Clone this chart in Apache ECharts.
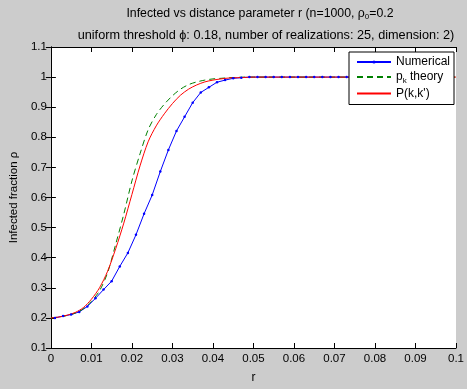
<!DOCTYPE html>
<html>
<head>
<meta charset="utf-8">
<script src="https://cdn.jsdelivr.net/npm/echarts@6/dist/echarts.min.js"></script>
<style>
  html, body { margin: 0; padding: 0; background: #cccccc; }
  #chart { width: 467px; height: 389px; }
</style>
</head>
<body>
<div id="chart"></div>
<script>
// numerical simulation, r = 0.001, 0.003, ...
const numR = [0.001, 0.003, 0.005, 0.007, 0.009, 0.011, 0.013, 0.015, 0.017, 0.019,
  0.021, 0.023, 0.025, 0.027, 0.029, 0.031, 0.033, 0.035, 0.037, 0.039,
  0.041, 0.043, 0.045, 0.047, 0.049, 0.051, 0.053, 0.055, 0.057, 0.059,
  0.061, 0.063, 0.065, 0.067, 0.069, 0.071, 0.073, 0.075, 0.077, 0.079,
  0.081, 0.083, 0.085, 0.087, 0.089, 0.091, 0.093, 0.095, 0.097, 0.099];
const numRho = [0.200, 0.206, 0.211, 0.220, 0.238, 0.265, 0.294, 0.322, 0.371, 0.416,
  0.476, 0.546, 0.608, 0.686, 0.758, 0.821, 0.868, 0.915, 0.949, 0.966,
  0.983, 0.990, 0.996, 0.998, 1.0, 1.0, 1.0, 1.0, 1.0, 1.0,
  1.0, 1.0, 1.0, 1.0, 1.0, 1.0, 1.0, 1.0, 1.0, 1.0,
  1.0, 1.0, 1.0, 1.0, 1.0, 1.0, 1.0, 1.0, 1.0, 1.0];

// theory curves
const theoryR = [0, 0.002, 0.004, 0.006, 0.008, 0.010, 0.012, 0.014, 0.016, 0.018,
  0.020, 0.022, 0.024, 0.026, 0.028, 0.030, 0.032, 0.034, 0.036, 0.038,
  0.040, 0.042, 0.044, 0.046, 0.048, 0.050, 0.100];
const pkRho = [0.200, 0.203, 0.208, 0.216, 0.230, 0.255, 0.290, 0.350, 0.445, 0.545,
  0.655, 0.745, 0.825, 0.875, 0.910, 0.938, 0.960, 0.975, 0.984, 0.990,
  0.994, 0.996, 0.998, 0.999, 1.0, 1.0, 1.0];
const pkkRho = [0.200, 0.203, 0.209, 0.218, 0.234, 0.262, 0.300, 0.355, 0.430, 0.515,
  0.610, 0.705, 0.785, 0.838, 0.878, 0.912, 0.940, 0.960, 0.974, 0.984,
  0.990, 0.994, 0.997, 0.998, 0.999, 1.0, 1.0];

const seriesNames = ["Numerical", "pk theory", "P(k,k')"];

const font = "Liberation Sans";

function pairs(xs, ys) {
  return xs.map((x, i) => [x, ys[i]]);
}

const chart = echarts.init(document.getElementById("chart"));

const axisCommon = {
  axisLine: { lineStyle: { color: "#000", width: 1 } },
  axisTick: { inside: true, length: 5, lineStyle: { color: "#000" } },
  splitLine: { show: false },
};

const subStyle = { fontFamily: font, fontSize: 8, color: "#000", verticalAlign: "bottom", padding: [7, 0, 0, 0] };

chart.setOption({
  backgroundColor: "#cccccc",
  animation: false,
  title: [
    {
      text: "Infected vs distance parameter r (n=1000, {r|ρ}{s|0}=0.2",
      left: 255,
      top: 1,
      textAlign: "center",
      textStyle: {
        fontFamily: font, fontSize: 12.3, fontWeight: "normal", color: "#000",
        rich: {
          r: { fontFamily: font, fontSize: 12.3, color: "#000" },
          s: subStyle,
        },
      },
    },
    {
      text: "uniform threshold ϕ: 0.18, number of realizations: 25, dimension: 2)",
      left: 261,
      top: 24,
      textAlign: "center",
      textStyle: { fontFamily: font, fontSize: 12.7, fontWeight: "normal", color: "#000" },
    },
  ],
  grid: { left: 49, right: 9, top: 47, bottom: 33, show: true, backgroundColor: "#fff", borderWidth: 0 },
  legend: {
    orient: "vertical",
    left: 349,
    top: 52,
    padding: [4, 4, 5, 7],
    itemGap: 3,
    itemWidth: 34,
    itemHeight: 4,
    backgroundColor: "#fff",
    borderColor: "#000",
    borderWidth: 1,
    data: [
      { name: seriesNames[0] },
      { name: seriesNames[1], itemStyle: { opacity: 0 } },
      { name: seriesNames[2], itemStyle: { opacity: 0 } },
    ],
    formatter: (name) => (name === "pk theory" ? "{p|p}{s|k}{p| theory}" : name),
    textStyle: {
      fontFamily: font, fontSize: 12, color: "#000",
      rich: {
        p: { fontFamily: font, fontSize: 12, color: "#000" },
        s: subStyle,
      },
    },
  },
  xAxis: [
    Object.assign({}, axisCommon, {
      type: "value",
      min: 0,
      max: 0.1,
      interval: 0.01,
      name: "r",
      nameLocation: "middle",
      nameGap: 24,
      nameTextStyle: { fontFamily: font, fontSize: 12, color: "#000" },
      axisLabel: {
        fontFamily: font, fontSize: 11.5, color: "#000", margin: 5,
        formatter: (v) => String(parseFloat(v.toFixed(2))),
      },
    }),
    Object.assign({}, axisCommon, {
      type: "value", position: "top", min: 0, max: 0.1, interval: 0.01,
      axisLabel: { show: false },
    }),
  ],
  yAxis: [
    Object.assign({}, axisCommon, {
      type: "value",
      min: 0.1,
      max: 1.1,
      interval: 0.1,
      name: "Infected fraction ρ",
      nameLocation: "middle",
      nameGap: 26,
      nameTextStyle: { fontFamily: font, fontSize: 11.5, color: "#000" },
      axisLabel: {
        fontFamily: font, fontSize: 11.5, color: "#000", margin: 4,
        formatter: (v) => String(parseFloat(v.toFixed(1))),
      },
    }),
    Object.assign({}, axisCommon, {
      type: "value", position: "right", min: 0.1, max: 1.1, interval: 0.1,
      axisLabel: { show: false },
    }),
  ],
  series: [
    {
      name: seriesNames[0],
      type: "line",
      data: pairs(numR, numRho),
      symbol: "circle",
      symbolSize: 2.5,
      itemStyle: { color: "#0000ff" },
      lineStyle: { color: "#0000ff", width: 1 },
    },
    {
      name: seriesNames[1],
      type: "line",
      data: pairs(theoryR, pkRho),
      smooth: 0.3,
      showSymbol: false,
      symbol: "none",
      itemStyle: { color: "#008000" },
      lineStyle: { color: "#008000", width: 1, type: [6, 4] },
    },
    {
      name: seriesNames[2],
      type: "line",
      data: pairs(theoryR, pkkRho),
      smooth: 0.3,
      showSymbol: false,
      symbol: "none",
      itemStyle: { color: "#ff0000" },
      lineStyle: { color: "#ff0000", width: 1 },
    },
  ],
});
</script>
</body>
</html>
